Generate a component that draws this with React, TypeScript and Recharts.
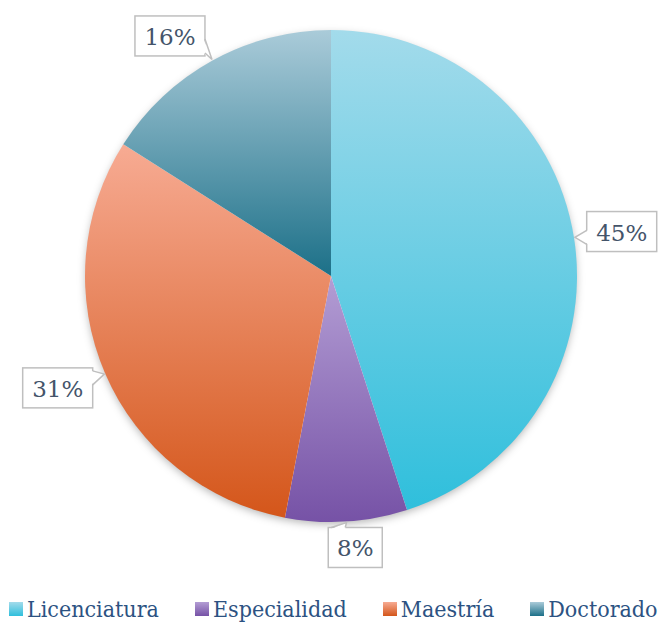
import { PieChart, Pie, Cell, Legend } from "recharts";

if (typeof document !== "undefined") document.body.style.margin = "0";

const categories = ["Licenciatura", "Especialidad", "Maestría", "Doctorado"];
const shares = [45, 8, 31, 16];

const data = categories.map((name, i) => ({ name, value: shares[i] }));

// top / bottom colour of each slice gradient
const gradients = [
  ["#a3dbeb", "#2fbfdc"],
  ["#b39dd4", "#7652a6"],
  ["#f7ab93", "#d4561a"],
  ["#aacbd9", "#1c7088"],
];

const RADIAN = Math.PI / 180;
const SERIF = "DejaVu Serif";

function CalloutLabel(props: any) {
  const { cx, cy, midAngle, outerRadius, index } = props;
  const text = `${shares[index]}%`;
  const w = text.length > 2 ? 70 : 54;
  const h = 40;
  const cos = Math.cos(-midAngle * RADIAN);
  const sin = Math.sin(-midAngle * RADIAN);
  // pointer tip sits on the pie edge
  const tx = cx + (outerRadius + 1) * cos;
  const ty = cy + (outerRadius + 1) * sin;
  // box centre pushed out from the tip, more sideways than up/down
  const bx = tx + 47 * Math.tanh(3 * cos);
  const by = ty + 29 * Math.tanh(1.3 * sin);

  const rx = tx - bx;
  const ry = ty - by;
  const half = 7;
  let p1: [number, number];
  let p2: [number, number];
  let f1: [number, number];
  let f2: [number, number];
  if (Math.abs(rx) - w / 2 > Math.abs(ry) - h / 2) {
    const s = Math.sign(rx);
    const sx = bx + (s * w) / 2;
    const yc = Math.min(Math.max(ty, by - h / 2 + 10), by + h / 2 - 10);
    p1 = [sx, yc - half];
    p2 = [sx, yc + half];
    f1 = [sx - s * 1.5, yc - half];
    f2 = [sx - s * 1.5, yc + half];
  } else {
    const s = Math.sign(ry);
    const sy = by + (s * h) / 2;
    const xc = Math.min(Math.max(tx - 10, bx - w / 2 + 10), bx + w / 2 - 14);
    p1 = [xc - half, sy];
    p2 = [xc + half, sy];
    f1 = [xc - half, sy - s * 1.5];
    f2 = [xc + half, sy - s * 1.5];
  }

  return (
    <g>
      <rect
        x={bx - w / 2}
        y={by - h / 2}
        width={w}
        height={h}
        fill="#ffffff"
        stroke="#bfbfbf"
        strokeWidth={1.5}
      />
      <polygon
        points={`${f1[0]},${f1[1]} ${tx},${ty} ${f2[0]},${f2[1]}`}
        fill="#ffffff"
        stroke="none"
      />
      <polyline
        points={`${p1[0]},${p1[1]} ${tx},${ty} ${p2[0]},${p2[1]}`}
        fill="none"
        stroke="#bfbfbf"
        strokeWidth={1.5}
      />
      <text
        x={bx}
        y={by + 1}
        textAnchor="middle"
        dominantBaseline="central"
        style={{ fontFamily: SERIF, fontSize: 23 }}
        fill="#44546a"
      >
        {text}
      </text>
    </g>
  );
}

function LegendRow() {
  return (
    <div
      style={{
        display: "flex",
        alignItems: "center",
        paddingLeft: 9,
        fontFamily: SERIF,
        fontStretch: "condensed",
        fontSize: 23,
        color: "#2c5282",
      }}
    >
      {categories.map((name, i) => (
        <div key={name} style={{ display: "flex", alignItems: "center", marginRight: 36 }}>
          <span
            style={{
              display: "inline-block",
              width: 14,
              height: 14,
              marginRight: 4,
              background: `linear-gradient(${gradients[i][0]}, ${gradients[i][1]})`,
            }}
          />
          <span>{name}</span>
        </div>
      ))}
    </div>
  );
}

export default function App() {
  return (
    <div style={{ width: 665, height: 622, background: "#ffffff" }}>
      <PieChart width={665} height={622} margin={{ top: 0, right: 0, bottom: 0, left: 0 }}>
        <defs>
          {gradients.map((g, i) => (
            <linearGradient key={i} id={`slice-${i}`} x1="0" y1="0" x2="0" y2="1">
              <stop offset="0%" stopColor={g[0]} />
              <stop offset="100%" stopColor={g[1]} />
            </linearGradient>
          ))}
          <filter id="pie-shadow" x="-10%" y="-10%" width="120%" height="120%">
            <feDropShadow dx="0" dy="3" stdDeviation="4" floodColor="#000000" floodOpacity="0.3" />
          </filter>
        </defs>
        <Pie
          data={[{ name: "all", value: 1 }]}
          dataKey="value"
          cx={331}
          cy={276}
          outerRadius={245}
          startAngle={90}
          endAngle={-270}
          fill="#ffffff"
          stroke="none"
          style={{ filter: "url(#pie-shadow)" }}
          isAnimationActive={false}
          legendType="none"
        />
        <Pie
          data={data}
          dataKey="value"
          nameKey="name"
          cx={331}
          cy={276}
          outerRadius={246}
          startAngle={90}
          endAngle={-270}
          stroke="none"
          label={CalloutLabel}
          labelLine={false}
          isAnimationActive={false}
        >
          {data.map((d, i) => (
            <Cell key={d.name} fill={`url(#slice-${i})`} />
          ))}
        </Pie>
        <Legend verticalAlign="bottom" content={() => <LegendRow />} wrapperStyle={{ bottom: 0 }} />
      </PieChart>
    </div>
  );
}
